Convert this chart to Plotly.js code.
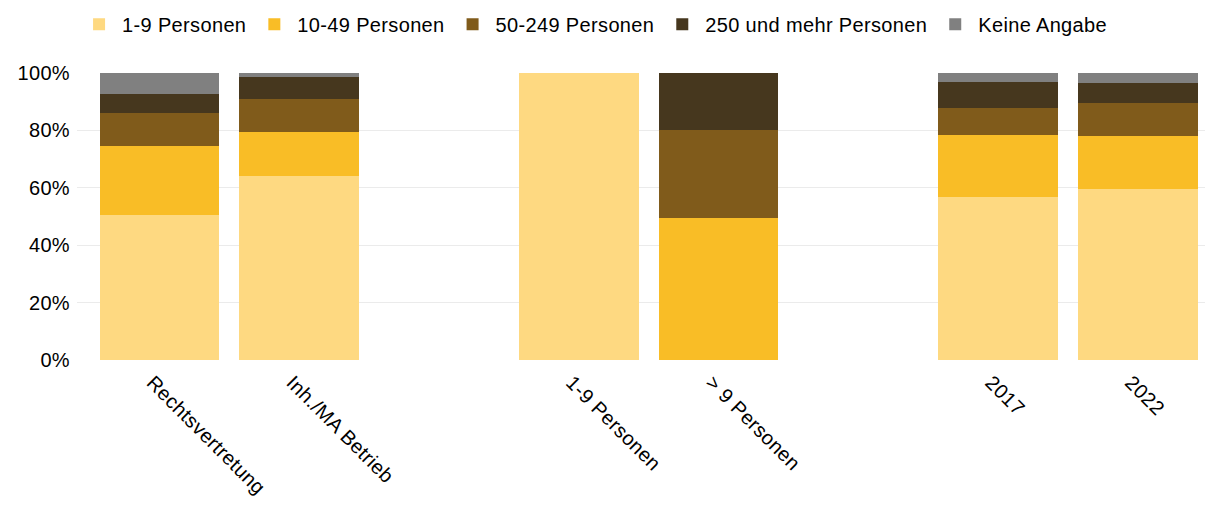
<!DOCTYPE html>
<html>
<head>
<meta charset="utf-8">
<script src="https://cdn.plot.ly/plotly-3.0.1.min.js"></script>
<style>
  html, body { margin: 0; padding: 0; background: #fff; }
  #chart { width: 1205px; height: 505px; }
  svg text { letter-spacing: 0.35px; }
</style>
</head>
<body>
<div id="chart"></div>
<script>
// categories, with two empty slots as spacers between the groups
const categories = ['Rechtsvertretung', 'Inh./MA Betrieb', 'gap1', '1-9 Personen', '> 9 Personen', 'gap2', '2017', '2022'];
const tickLabels = ['Rechtsvertretung', 'Inh./MA Betrieb', '1-9 Personen', '> 9 Personen', '2017', '2022'];

// shares in percent, per size class (null = empty slot)
const p1to9    = [50.5, 64.1, null, 100,  0,    null, 56.8, 59.5];
const p10to49  = [24.1, 15.5, null, 0,    49.5, null, 21.7, 18.5];
const p50to249 = [11.5, 11.3, null, 0,    30.6, null, 9.3,  11.5];
const p250plus = [6.7,  7.7,  null, 0,    19.9, null, 9.0,  7.1];
const pKeine   = [7.2,  1.4,  null, 0,    0,    null, 3.2,  3.4];

const yTicks = [0, 20, 40, 60, 80, 100];
const yTickText = ['0%', '20%', '40%', '60%', '80%', '100%'];

const seriesNames = ['1-9 Personen', '10-49 Personen', '50-249 Personen', '250 und mehr Personen', 'Keine Angabe'];
const seriesValues = [p1to9, p10to49, p50to249, p250plus, pKeine];
const colors = ['#fed981', '#f9bd26', '#805b1b', '#46371e', '#808080'];

const traces = seriesNames.map((name, i) => ({
  type: 'bar',
  name: name,
  x: categories,
  y: seriesValues[i],
  marker: { color: colors[i], line: { width: 0 } },
  hovertemplate: '%{x}: %{y:.1f}%<extra>' + name + '</extra>'
}));

const font = { family: '"Liberation Sans", Arial, sans-serif', size: 20, color: '#000' };

const layout = {
  width: 1205,
  height: 505,
  barmode: 'stack',
  bargap: 0.143,
  paper_bgcolor: '#fff',
  plot_bgcolor: '#fff',
  font: font,
  margin: { l: 77, r: 0, t: 73, b: 145 },
  showlegend: true,
  legend: {
    orientation: 'h',
    xref: 'container',
    yref: 'container',
    x: 0.493,
    xanchor: 'center',
    y: 0.952,
    yanchor: 'middle',
    font: font,
    traceorder: 'normal',
    itemwidth: 36
  },
  xaxis: {
    type: 'category',
    categoryorder: 'array',
    categoryarray: categories,
    range: [-0.59, 7.48],
    tickmode: 'array',
    tickvals: tickLabels,
    ticktext: tickLabels,
    tickangle: 45,
    ticklabelshift: -7,
    ticklabelstandoff: 6,
    showgrid: false,
    zeroline: false,
    showline: false,
    ticks: '',
    tickfont: font
  },
  yaxis: {
    range: [0, 100],
    tickmode: 'array',
    tickvals: yTicks,
    ticktext: yTickText,
    showgrid: true,
    gridcolor: '#ebebeb',
    gridwidth: 1,
    zeroline: false,
    showline: false,
    ticks: '',
    ticklabelstandoff: 6,
    tickfont: font
  }
};

Plotly.newPlot('chart', traces, layout, { displayModeBar: false, staticPlot: true });
</script>
</body>
</html>
